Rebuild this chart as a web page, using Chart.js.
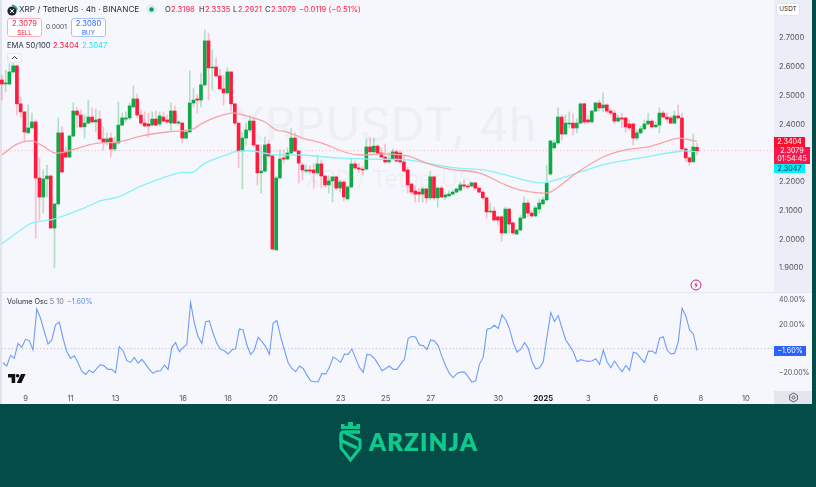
<!DOCTYPE html>
<html>
<head>
<meta charset="utf-8">
<title>XRPUSDT 4h</title>
<script src="https://cdn.jsdelivr.net/npm/chart.js@4"></script>
<style>
  html, body { margin: 0; padding: 0; background: #044c48; }
  body { position: relative; width: 816px; height: 487px; overflow: hidden; font-family: Inter, "Noto Sans", sans-serif; }
  #panel { position: absolute; left: 0; top: 0; width: 812px; height: 404px; background: #f6f7fd; overflow: hidden; }
  #edge { position: absolute; left: 0; top: 0; width: 2px; height: 404px; background: #dfe3ec; }
  #axisband { position: absolute; left: 774px; top: 0; width: 38px; height: 292px; background: #ebeef6; }
  #timeband { position: absolute; left: 774px; top: 391px; width: 38px; height: 13px; background: #e3e6ef; }
  #split { position: absolute; left: 0; top: 292px; width: 812px; height: 1px; background: #e4e7f1; }
  canvas { position: absolute; left: 0; }
  #priceChart { top: 0; }
  #oscChart { top: 293px; }
  .t { position: absolute; white-space: nowrap; line-height: 1; }
  .wm { color: #eeeff4; }
  .tag { position: absolute; left: 774px; color: #fff; font-size: 7.2px; text-align: center; line-height: 8.2px; }
  .btn { position: absolute; top: 18px; height: 19px; width: 35px; border-radius: 3px; background: #fff; text-align: center; font-size: 7.6px; line-height: 8.5px; padding-top: 1px; box-sizing: border-box; }
  .up { color: #ff1a3e; }
</style>
</head>
<body>
<div id="panel">
  <div id="edge"></div>
  <div id="axisband"></div>
  <div class="t wm" style="left:233px;top:100px;font-size:47px;">XRPUSDT, 4h</div>
  <div class="t wm" style="left:305px;top:167.5px;font-size:23px;">XRP / TetherUS</div>
  <div id="split"></div>
  <div id="timeband"></div>
  <canvas id="priceChart" width="812" height="292"></canvas>
  <canvas id="oscChart" width="812" height="111"></canvas>

  <!-- header -->
  <svg style="position:absolute;left:6px;top:4px" width="12" height="12" viewBox="0 0 12 12">
    <circle cx="6" cy="7" r="4.6" fill="#23262e"/>
    <path d="M4 5l4 4M8 5l-4 4" stroke="#fff" stroke-width="1"/>
    <path d="M6 1.4a5 5 0 0 1 5 4.6" stroke="#1b9aa0" stroke-width="1.6" fill="none"/>
  </svg>
  <div class="t" style="left:19px;top:5px;font-size:8.2px;color:#2a2e39;">XRP / TetherUS · 4h · BINANCE</div>
  <svg style="position:absolute;left:146px;top:4px" width="11" height="11" viewBox="0 0 11 11">
    <circle cx="5.5" cy="5.5" r="5" fill="#dcefee"/><circle cx="5.5" cy="5.5" r="2.2" fill="#089981"/>
  </svg>
  <div class="t" style="left:165px;top:5.5px;font-size:7.6px;color:#2a2e39;">O</div>
  <div class="t up" style="left:171px;top:5.5px;font-size:7.6px;">2.3198</div>
  <div class="t" style="left:199px;top:5.5px;font-size:7.6px;color:#2a2e39;">H</div>
  <div class="t up" style="left:205px;top:5.5px;font-size:7.6px;">2.3335</div>
  <div class="t" style="left:233px;top:5.5px;font-size:7.6px;color:#2a2e39;">L</div>
  <div class="t up" style="left:238px;top:5.5px;font-size:7.6px;">2.2921</div>
  <div class="t" style="left:265px;top:5.5px;font-size:7.6px;color:#2a2e39;">C</div>
  <div class="t up" style="left:271px;top:5.5px;font-size:7.6px;">2.3079</div>
  <div class="t up" style="left:299px;top:5.5px;font-size:7.6px;">−0.0119 (−0.51%)</div>

  <div class="btn" style="left:7px;border:1px solid #f7b4c0;color:#ff1a3e;">2.3079<br><span style="font-size:6.2px">SELL</span></div>
  <div class="t" style="left:46px;top:24px;font-size:6.6px;color:#444;">0.0001</div>
  <div class="btn" style="left:71px;border:1px solid #a9c1f7;color:#2962ff;">2.3080<br><span style="font-size:6.2px">BUY</span></div>

  <div class="t" style="left:7px;top:41.5px;font-size:7.6px;color:#2a2e39;">EMA 50/100</div>
  <div class="t up" style="left:53px;top:41.5px;font-size:7.6px;">2.3404</div>
  <div class="t" style="left:82px;top:41.5px;font-size:7.6px;color:#22e6ee;">2.3047</div>
  <div style="position:absolute;left:7px;top:53px;width:15px;height:10px;border:1px solid #e6e8ef;border-radius:2px;box-sizing:border-box;background:#f6f7fd;">
    <svg style="display:block" width="13" height="8" viewBox="0 0 13 8"><path d="M4 5l2.5-2.5L9 5" stroke="#333" fill="none" stroke-width="1"/></svg>
  </div>

  <!-- osc header -->
  <div class="t" style="left:7px;top:298px;font-size:7.2px;color:#2a2e39;">Volume Osc <span style="color:#70747f">5 10</span></div>
  <div class="t" style="left:67px;top:298px;font-size:7.2px;color:#5b8df0;">−1.60%</div>

  <!-- right side -->
  <div class="t" style="left:776px;top:3px;width:24px;height:13px;background:#fff;border:1px solid #e2e5ee;border-radius:2px;box-sizing:border-box;font-size:6.4px;line-height:11px;text-align:center;color:#2a2e39;">USDT</div>
  <div class="tag" style="top:137px;width:31px;height:9.5px;background:#ff0f2f;line-height:9.5px;">2.3404</div>
  <div class="tag" style="top:146.5px;width:36px;height:17px;background:#f7184c;">2.3079<br>01:54:45</div>
  <div class="tag" style="top:164px;width:31px;height:9px;background:#00f0ff;color:#1c2030;line-height:9px;">2.3047</div>
  <div class="tag" style="top:346px;width:32px;height:9.5px;background:#2962ff;line-height:9.5px;">−1.60%</div>

  <svg style="position:absolute;left:690px;top:279px" width="12" height="12" viewBox="0 0 12 12">
    <circle cx="6" cy="6" r="5" fill="#f6f7fd" stroke="#c2278c" stroke-width="1"/>
    <path d="M6.8 2.8L4.2 6.4h1.9L5.2 9.2l2.7-3.7H6z" fill="#c2278c"/>
  </svg>
  <svg style="position:absolute;left:8px;top:374px" width="18" height="10" viewBox="0 0 18 10">
    <path d="M0 0h7.2v9H3.6V3.4H0z" fill="#111"/><circle cx="9.6" cy="1.8" r="1.8" fill="#111"/>
    <path d="M13 0h4.6L13.4 9H8.8z" fill="#111"/>
  </svg>
  <svg style="position:absolute;left:788px;top:392px" width="11" height="11" viewBox="0 0 11 11">
    <path d="M5.5 1l3.9 2.25v4.5L5.5 10 1.6 7.75v-4.5z" fill="none" stroke="#555" stroke-width="0.9"/>
    <circle cx="5.5" cy="5.5" r="1.5" fill="none" stroke="#555" stroke-width="0.9"/>
  </svg>
</div>

<!-- footer logo -->
<svg style="position:absolute;left:338px;top:421px" width="25" height="42" viewBox="0 0 25 42">
  <path d="M3 8V3h3.5v2H10V1h5v4h3.5V3H22v5z" fill="#10c98c"/>
  <path d="M22 11H5.5a2.5 2.5 0 0 0-2.5 2.5v6L19 27" fill="none" stroke="#10c98c" stroke-width="3.4"/>
  <path d="M3 17v10l9.5 12L22 27v-8L7 12" fill="none" stroke="#10c98c" stroke-width="3"/>
</svg>
<div class="t" style="left:369px;top:430px;font-size:24px;font-weight:800;font-family:Lato,'Open Sans',sans-serif;color:#10c98c;letter-spacing:1.2px;">ARZINJA</div>

<script>
// values, one entry per 4h candle
const opens = [2.554,2.540,2.540,2.582,2.603,2.471,2.443,2.370,2.387,2.408,2.213,2.147,2.210,2.220,2.039,2.123,2.370,2.304,2.286,2.359,
  2.446,2.432,2.391,2.404,2.425,2.408,2.418,2.349,2.338,2.352,2.314,2.335,2.397,2.418,2.422,2.460,2.488,2.432,2.404,2.401,
  2.397,2.418,2.401,2.425,2.415,2.404,2.446,2.404,2.404,2.352,2.373,2.474,2.488,2.484,2.537,2.690,2.596,2.599,2.568,2.523,
  2.509,2.582,2.471,2.404,2.307,2.352,2.380,2.411,2.328,2.231,2.237,2.331,2.290,1.963,2.213,2.283,2.279,2.300,2.352,2.307,
  2.258,2.237,2.241,2.241,2.231,2.262,2.220,2.189,2.203,2.217,2.178,2.199,2.140,2.182,2.262,2.248,2.244,2.244,2.321,2.304,
  2.324,2.300,2.286,2.269,2.279,2.304,2.300,2.269,2.241,2.192,2.168,2.164,2.157,2.175,2.144,2.217,2.144,2.178,2.147,2.151,
  2.157,2.164,2.171,2.189,2.185,2.185,2.196,2.178,2.164,2.144,2.095,2.098,2.078,2.078,2.022,2.105,2.057,2.018,2.032,2.074,
  2.126,2.091,2.081,2.105,2.123,2.137,2.227,2.318,2.335,2.425,2.366,2.401,2.404,2.387,2.404,2.471,2.415,2.408,2.446,2.474,
  2.457,2.467,2.446,2.439,2.411,2.422,2.422,2.401,2.401,2.352,2.370,2.384,2.401,2.411,2.391,2.397,2.439,2.425,2.422,2.404,
  2.429,2.422,2.314,2.283,2.269,2.3198];
const highs = [2.571,2.589,2.610,2.617,2.606,2.495,2.443,2.467,2.439,2.415,2.283,2.241,2.258,2.224,2.123,2.422,2.391,2.321,2.363,2.474,
  2.460,2.450,2.432,2.484,2.457,2.453,2.446,2.391,2.370,2.370,2.356,2.477,2.439,2.443,2.474,2.533,2.505,2.450,2.443,2.439,
  2.443,2.446,2.443,2.443,2.432,2.474,2.464,2.415,2.408,2.380,2.585,2.526,2.502,2.578,2.728,2.717,2.658,2.630,2.592,2.571,
  2.596,2.582,2.471,2.404,2.370,2.404,2.429,2.422,2.328,2.328,2.356,2.345,2.290,2.220,2.311,2.311,2.318,2.387,2.370,2.311,
  2.265,2.258,2.255,2.262,2.293,2.276,2.220,2.220,2.217,2.220,2.206,2.203,2.185,2.279,2.272,2.265,2.255,2.349,2.352,2.352,
  2.331,2.318,2.331,2.300,2.314,2.311,2.307,2.293,2.251,2.196,2.185,2.178,2.182,2.178,2.237,2.220,2.182,2.185,2.161,2.168,
  2.171,2.178,2.199,2.206,2.192,2.199,2.199,2.182,2.168,2.147,2.126,2.112,2.081,2.081,2.112,2.109,2.060,2.036,2.084,2.147,
  2.137,2.098,2.116,2.140,2.147,2.258,2.342,2.345,2.457,2.432,2.432,2.443,2.439,2.418,2.474,2.474,2.429,2.450,2.477,2.484,
  2.509,2.471,2.453,2.450,2.432,2.439,2.425,2.415,2.404,2.380,2.394,2.415,2.439,2.415,2.408,2.457,2.446,2.439,2.429,2.446,
  2.467,2.439,2.318,2.286,2.366,2.3335];
const lows = [2.484,2.512,2.537,2.578,2.432,2.425,2.342,2.370,2.387,2.005,2.067,2.091,2.147,2.039,1.900,2.119,2.231,2.283,2.283,2.356,
  2.391,2.387,2.352,2.401,2.404,2.373,2.345,2.311,2.328,2.286,2.307,2.331,2.394,2.408,2.415,2.460,2.425,2.397,2.391,2.356,
  2.394,2.394,2.394,2.408,2.401,2.373,2.401,2.397,2.335,2.349,2.373,2.460,2.439,2.460,2.533,2.484,2.519,2.564,2.519,2.467,
  2.505,2.446,2.397,2.248,2.175,2.328,2.373,2.321,2.189,2.161,2.234,2.283,1.963,1.963,2.213,2.265,2.276,2.297,2.304,2.196,
  2.206,2.231,2.227,2.178,2.224,2.178,2.182,2.161,2.130,2.171,2.164,2.133,2.140,2.178,2.241,2.231,2.224,2.241,2.300,2.300,
  2.293,2.283,2.265,2.265,2.276,2.269,2.265,2.234,2.161,2.157,2.130,2.130,2.130,2.126,2.137,2.137,2.112,2.144,2.137,2.147,
  2.154,2.161,2.168,2.178,2.175,2.182,2.171,2.161,2.140,2.074,2.091,2.064,2.050,1.994,2.018,2.022,2.018,2.015,2.029,2.071,
  2.078,2.078,2.078,2.091,2.119,2.133,2.224,2.314,2.331,2.345,2.363,2.387,2.363,2.370,2.401,2.401,2.404,2.404,2.443,2.446,
  2.443,2.439,2.432,2.404,2.408,2.387,2.373,2.380,2.328,2.345,2.366,2.380,2.397,2.387,2.387,2.370,2.422,2.408,2.401,2.401,
  2.418,2.311,2.269,2.258,2.269,2.2921];
const closes = [2.540,2.544,2.582,2.603,2.471,2.443,2.373,2.387,2.408,2.213,2.147,2.210,2.220,2.039,2.123,2.370,2.234,2.286,2.359,2.446,
  2.432,2.391,2.404,2.425,2.408,2.415,2.349,2.338,2.349,2.314,2.335,2.397,2.422,2.422,2.464,2.488,2.432,2.404,2.394,2.394,
  2.418,2.397,2.429,2.411,2.408,2.446,2.404,2.408,2.352,2.373,2.474,2.484,2.484,2.537,2.690,2.596,2.599,2.568,2.523,2.509,
  2.582,2.471,2.404,2.307,2.352,2.380,2.411,2.328,2.231,2.237,2.328,2.290,1.966,2.213,2.279,2.279,2.300,2.352,2.307,2.265,
  2.241,2.241,2.237,2.231,2.262,2.220,2.189,2.203,2.217,2.178,2.199,2.147,2.182,2.262,2.248,2.244,2.241,2.321,2.304,2.324,
  2.300,2.286,2.269,2.279,2.304,2.272,2.269,2.237,2.189,2.164,2.157,2.157,2.175,2.144,2.217,2.144,2.178,2.147,2.154,2.157,
  2.164,2.175,2.189,2.185,2.182,2.196,2.178,2.164,2.144,2.095,2.098,2.067,2.067,2.022,2.105,2.053,2.022,2.032,2.074,2.126,
  2.091,2.081,2.109,2.126,2.137,2.196,2.342,2.335,2.425,2.366,2.404,2.404,2.387,2.404,2.471,2.408,2.408,2.446,2.474,2.457,
  2.467,2.446,2.439,2.411,2.422,2.418,2.391,2.387,2.352,2.370,2.384,2.401,2.411,2.391,2.397,2.439,2.425,2.418,2.404,2.429,
  2.422,2.314,2.283,2.269,2.321,2.3079];

// moving averages read at these candles, the library joins them up
const ema50At = [0,4,8,11,14,17,22,26,31,37,44,48,51,53,57,61,63,67,70,73,76,80,85,92,96,102,108,113,119,127,134,138,143,146,153,160,166,172,179,181,185];
const ema50Values = [2.293,2.331,2.342,2.324,2.300,2.304,2.324,2.335,2.338,2.359,2.373,2.377,2.384,2.401,2.425,2.439,2.436,2.422,2.408,2.380,2.373,2.352,2.335,2.300,2.293,2.297,2.290,2.265,2.244,2.231,2.189,2.171,2.161,2.164,2.231,2.286,2.311,2.321,2.349,2.351,2.3404];
const ema100At = [0,5,8,13,17,22,26,31,37,47,51,54,59,62,67,73,80,89,98,108,113,121,128,134,139,144,149,154,161,170,181,185];
const ema100Values = [1.984,2.032,2.057,2.067,2.084,2.109,2.133,2.147,2.185,2.231,2.234,2.265,2.290,2.304,2.307,2.293,2.293,2.283,2.279,2.276,2.265,2.248,2.241,2.224,2.206,2.196,2.213,2.234,2.262,2.283,2.307,2.3047];

const volumeOsc = [-11.6,-14.3,-5.5,-8,4.4,1.1,7.7,6.6,-1.1,32.6,25.1,14.1,3.9,7.2,19.6,21.8,8.6,-2.5,-8,-5.8,
  -11.6,-18.5,-21.2,-17.7,-19.9,-16.3,-13.2,-14.3,-17.1,-17.1,-19.9,1.7,-1.7,-9.9,-11.3,-7.2,-11.9,-8.8,-12.7,-17.1,
  -20.4,-18.5,-18.2,-13.5,-17.1,1.1,5,-2.5,0.8,3.6,38.1,21,9.9,4.4,22.3,22.9,12.7,4.4,-0.6,-1.7,
  -4.4,-1.1,0,16.3,15.4,3,-4.7,-1.1,9.4,5.8,1.7,-4.7,
  21,23.2,9.9,-1.1,-11.6,-16.3,-19,-14.3,-16.3,-21.8,-26.5,-27.3,-27.3,-20.4,-21,-15.4,-6.9,-8.8,-11.3,-4.4,
  -4.7,-0.3,-8,-15.4,-19.6,-4.7,-5.2,-8,-12.7,-18.2,-16.3,-14.3,-17.1,-17.1,-12.7,-8.8,8.6,10.2,9.4,3,
  2.5,-0.6,7.2,6.3,2.5,-6.6,-14.3,-20.4,-24,-20.4,-19.3,-19.3,-23.2,-27.6,-26.5,-12.7,-7.2,16,16.8,19.3,
  16.6,27.9,23.7,16.3,5,-2.8,-0.6,5,0.3,-10.8,-16.6,-15.7,
  -10.8,9.9,29.8,22.3,27.3,16.8,7.2,2.5,-2.5,-10.8,-9.1,-9.9,-10.5,-10.2,-8.3,-13,-1.1,-10.8,-15.7,-10.2,
  -14.9,-19,-13.8,-17.7,-3,-3.9,-8,-11.3,-2.2,-1.9,-4.1,8.6,9.9,-1.1,-4.4,-3.9,5.8,33.4,27,15.4,12.1,-1.6];

// axis ticks
const priceTicks = [1.9,2.0,2.1,2.2,2.3,2.4,2.5,2.6,2.7];
const oscTicks = [-20,20,40];

// x axis: candle slot -> date label, the chart runs on past the last candle
const slotCount = 206;
const dayAt = [6,18,30,48,60,72,90,102,114,132,144,156,174,186,198];
const dayNames = ["9","11","13","16","18","20","23","25","27","30","2025","3","6","8","10"];

const labels = [];
for (let i = 0; i < slotCount; i++) labels.push("");
dayAt.forEach((slot, i) => { labels[slot] = dayNames[i]; });

function sparse(at, values) {
  const out = labels.map(() => null);
  at.forEach((slot, i) => { out[slot] = values[i]; });
  return out;
}

const red = "#ff1a3e";
const green = "#10a846";
const wickRed = "rgba(255,60,90,0.3)";
const wickGreen = "rgba(16,168,70,0.3)";
const isUp = closes.map((c, i) => c >= opens[i]);

// dotted level across the plot
function levelLine(value, color) {
  return {
    id: "levelLine",
    beforeDatasetsDraw(chart) {
      const y = chart.scales.y.getPixelForValue(value);
      const c = chart.ctx;
      c.save();
      c.strokeStyle = color;
      c.lineWidth = 1;
      c.setLineDash([1.5, 2]);
      c.beginPath();
      c.moveTo(chart.chartArea.left, y);
      c.lineTo(chart.chartArea.right, y);
      c.stroke();
      c.restore();
    }
  };
}

// keep the plot filling the canvas, the axis takes a fixed strip on the right
function fixAxis(scale) {
  scale.width = 38;
  scale.paddingTop = 0;
  scale.paddingBottom = 0;
}

new Chart(document.getElementById("priceChart"), {
  type: "bar",
  plugins: [levelLine(closes[closes.length - 1], "#f9c3cd")],
  data: {
    labels: labels,
    datasets: [
      {
        type: "line", data: sparse(ema50At, ema50Values), borderColor: "#f7a3a6", borderWidth: 1.3,
        pointRadius: 0, spanGaps: true, tension: 0.3, order: 0
      },
      {
        type: "line", data: sparse(ema100At, ema100Values), borderColor: "#86f1f8", borderWidth: 1.3,
        pointRadius: 0, spanGaps: true, tension: 0.3, order: 0
      },
      {
        data: opens.map((o, i) => [Math.min(o, closes[i]), Math.max(o, closes[i])]),
        backgroundColor: isUp.map(u => u ? green : red),
        barThickness: 3, grouped: false, borderSkipped: false, order: 1
      },
      {
        data: lows.map((l, i) => [l, highs[i]]),
        backgroundColor: isUp.map(u => u ? wickGreen : wickRed),
        barThickness: 1, grouped: false, borderSkipped: false, order: 2
      }
    ]
  },
  options: {
    responsive: false,
    animation: false,
    layout: { padding: 0, autoPadding: false },
    plugins: { legend: { display: false }, tooltip: { enabled: false } },
    scales: {
      x: { display: false, offset: true, grid: { display: false } },
      y: {
        position: "right",
        bounds: "data",
        min: 1.8165,
        max: 2.8322,
        afterBuildTicks: scale => { scale.ticks = priceTicks.map(v => ({ value: v })); },
        afterFit: fixAxis,
        grid: { display: false, drawTicks: false },
        border: { display: false },
        ticks: {
          autoSkip: false,
          padding: 5,
          color: "#50535e",
          font: { family: "Inter", size: 7.6 },
          callback: v => v.toFixed(4)
        }
      }
    }
  }
});

new Chart(document.getElementById("oscChart"), {
  type: "line",
  plugins: [levelLine(0, "#c5c7cf")],
  data: {
    labels: labels,
    datasets: [{
      data: volumeOsc, borderColor: "#6f9cf5", borderWidth: 1.1, pointRadius: 0, tension: 0
    }]
  },
  options: {
    responsive: false,
    animation: false,
    layout: { padding: 0, autoPadding: false },
    plugins: { legend: { display: false }, tooltip: { enabled: false } },
    scales: {
      x: {
        offset: true,
        afterFit: scale => { scale.height = 13; },
        grid: { display: false, drawTicks: false },
        border: { display: false },
        ticks: {
          autoSkip: false,
          maxRotation: 0,
          padding: 3,
          color: ctx => ctx.tick.label === "2025" ? "#1c1f27" : "#50535e",
          font: ctx => ({ family: "Inter", size: 7.6, weight: ctx.tick.label === "2025" ? "700" : "400" })
        }
      },
      y: {
        position: "right",
        bounds: "data",
        min: -34.9,
        max: 45.9,
        afterBuildTicks: scale => { scale.ticks = oscTicks.map(v => ({ value: v })); },
        afterFit: fixAxis,
        grid: { display: false, drawTicks: false },
        border: { display: false },
        ticks: {
          autoSkip: false,
          padding: 5,
          color: "#50535e",
          font: { family: "Inter", size: 7 },
          callback: v => (v < 0 ? "−" : "") + Math.abs(v).toFixed(2) + "%"
        }
      }
    }
  }
});
</script>
</body>
</html>
